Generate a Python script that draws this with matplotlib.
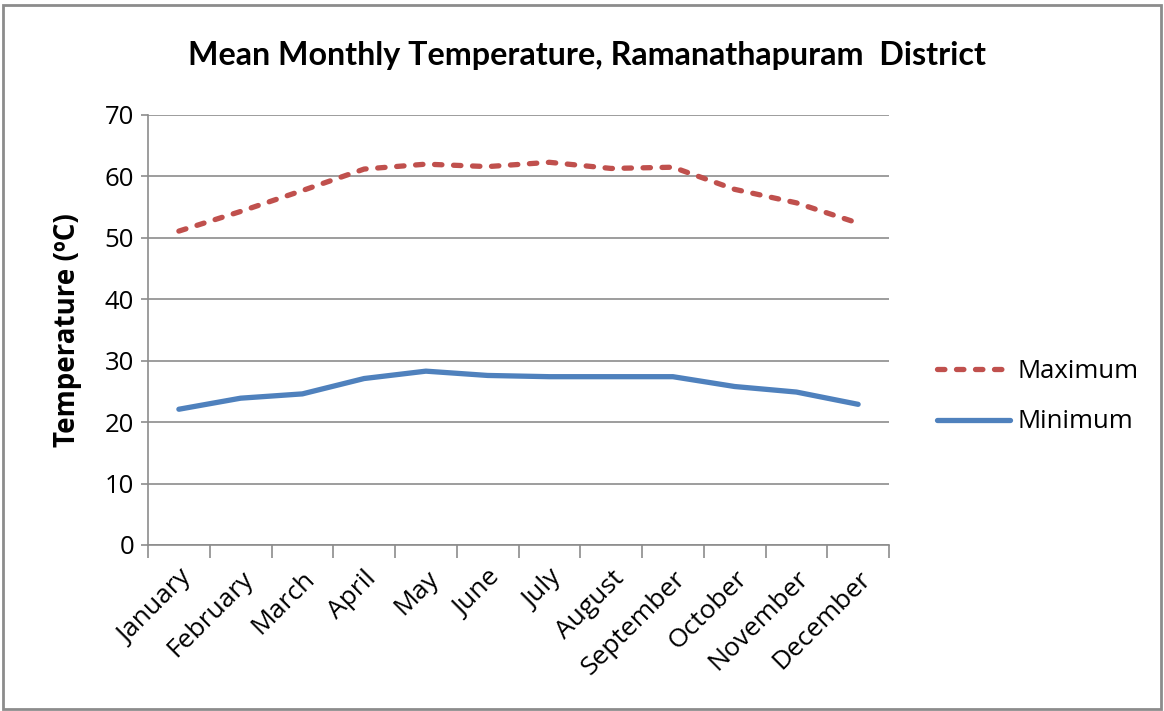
import matplotlib
matplotlib.use("Agg")
import matplotlib.pyplot as plt
from matplotlib.patches import Rectangle
import numpy as np

months = ["January", "February", "March", "April", "May", "June", "July",
          "August", "September", "October", "November", "December"]
maximum = [51.1, 54.3, 57.7, 61.2, 62.0, 61.6, 62.3, 61.3, 61.5, 57.9, 55.7, 52.4]
minimum = [22.1, 23.9, 24.6, 27.1, 28.3, 27.6, 27.4, 27.4, 27.4, 25.8, 24.9, 22.9]
yticks = [0, 10, 20, 30, 40, 50, 60, 70]

plt.rcParams['font.family'] = ['Open Sans', 'DejaVu Sans']

fig = plt.figure(figsize=(11.64, 7.11), dpi=100)
ax = fig.add_axes([148/1164, 1-545/711, (889-148)/1164, (545-115)/711])

x = np.arange(len(months))
ax.plot(x, maximum, color='#C0504D', lw=3.8, linestyle=(0, (1.4, 2.2)),
        dash_capstyle='round', solid_capstyle='round', label='Maximum')
ax.plot(x, minimum, color='#4F81BD', lw=3.8, solid_capstyle='round', label='Minimum')

ax.set_xlim(-0.5, len(months) - 0.5)
ax.set_ylim(0, 70)
ax.set_yticks(yticks)
ax.yaxis.grid(True, color='#8C8C8C', lw=1.2)
ax.set_axisbelow(True)
for s in ['top', 'right']:
    ax.spines[s].set_visible(False)
for s in ['left', 'bottom']:
    ax.spines[s].set_color('#8C8C8C')
    ax.spines[s].set_linewidth(1.2)

ax.set_xticks(x)
ax.set_xticklabels(months, rotation=45, ha='right', rotation_mode='anchor', fontsize=19)
ax.set_xticks(np.arange(-0.5, len(months)), minor=True)
ax.tick_params(axis='x', which='major', length=0, pad=15)
ax.tick_params(axis='x', which='minor', length=9, color='#8C8C8C', width=1.2)
ax.tick_params(axis='y', which='major', length=5, color='#8C8C8C', width=1.2,
               labelsize=18.5, pad=5)

ax.set_ylabel('Temperature (ºC)', fontsize=20, fontweight='bold', labelpad=16)
fig.text((185+988)/2/1164, 1-55/711, 'Mean Monthly Temperature, Ramanathapuram  District',
         ha='center', va='center', fontsize=23.2, fontweight='bold',
         family=['Lato', 'DejaVu Sans'])

leg = ax.legend(loc='center left', bbox_to_anchor=(1.0648, 0.345), frameon=False,
                fontsize=18.5, handlelength=2.85, handletextpad=0.3, labelspacing=1.0,
                borderaxespad=0, borderpad=0)

fig.add_artist(Rectangle((3/1164, 2/711), 1 - 6/1164, 1 - 7/711, transform=fig.transFigure,
                         fill=False, edgecolor='#8C8C8C', lw=2))

fig.savefig('out.png', dpi=100)
